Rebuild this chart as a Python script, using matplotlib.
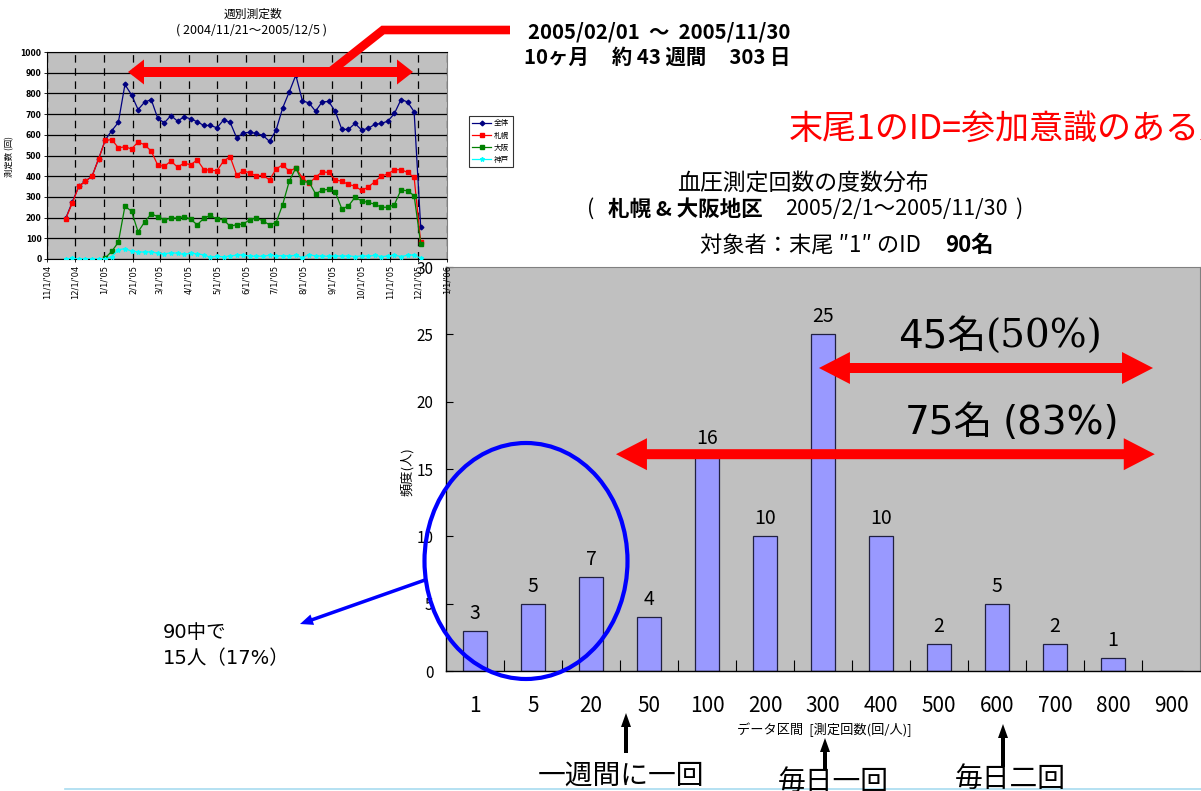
import numpy as np
import pandas as pd
import matplotlib
matplotlib.use("Agg")
import matplotlib.pyplot as plt
from matplotlib.patches import Polygon, Ellipse
from matplotlib.lines import Line2D
from matplotlib.transforms import Affine2D

plt.rcParams["font.family"] = ["Noto Sans CJK JP", "DejaVu Sans"]
NARROW = ["Liberation Sans Narrow", "Noto Sans CJK JP", "DejaVu Sans"]
WIDE = ["DejaVu Sans", "Noto Sans CJK JP"]

# ---------------- weekly measurement counts ----------------
week_start = "2004-11-21"
total_counts = [197, 276, 352, 376, 400, 484, 575, 620, 660, 843,
                793, 722, 758, 770, 679, 658, 693, 666, 687, 677,
                663, 645, 645, 634, 671, 661, 585, 609, 612, 607,
                597, 568, 623, 730, 807, 888, 764, 754, 714, 759,
                761, 713, 626, 626, 655, 623, 631, 650, 655, 666,
                703, 770, 759, 711, 153]
sapporo = [195, 271, 352, 376, 400, 484, 573, 577, 537, 542,
           532, 565, 552, 521, 453, 448, 473, 444, 463, 455,
           479, 432, 429, 426, 473, 494, 406, 426, 416, 400,
           405, 382, 435, 455, 424, 440, 392, 365, 395, 421,
           418, 382, 376, 360, 352, 331, 347, 373, 400, 411,
           431, 432, 418, 394, 81]
osaka = [np.nan] * 6 + [5, 37, 81, 255,
         231, 131, 179, 218, 205, 189, 198, 198, 205, 192,
         165, 197, 211, 192, 190, 158, 166, 169, 190, 198,
         184, 165, 176, 263, 376, 440, 371, 373, 315, 332,
         337, 324, 242, 256, 298, 281, 273, 265, 250, 250,
         263, 334, 329, 306, 73]
kobe = [0, 3, 0, 0, 0, 0, 0, 12, 45, 50,
        38, 35, 33, 35, 27, 25, 30, 28, 22, 28,
        25, 20, 8, 13, 10, 15, 18, 20, 13, 14,
        13, 18, 15, 16, 15, 17, 7, 20, 15, 14,
        13, 15, 14, 15, 12, 15, 14, 17, 12, 14,
        18, 12, 18, 20, 3]
series_labels = ["全体", "札幌", "大阪", "神戸"]
series_colors = ["#000080", "#FF0000", "#008000", "#00FFFF"]
series_markers = ["D", "s", "s", "*"]

# ---------------- frequency distribution ----------------
bins = ["1", "5", "20", "50", "100", "200", "300", "400", "500",
        "600", "700", "800", "900"]
freq = [3, 5, 7, 4, 16, 10, 25, 10, 2, 5, 2, 1, 0]

W, H = 1201, 791
fig = plt.figure(figsize=(W / 100, H / 100), dpi=100)
fig.patch.set_facecolor("white")
# pixel coordinates measured from the top-left corner of the figure
PX = Affine2D().scale(1 / W, -1 / H).translate(0, 1) + fig.transFigure


def box(l, t, r, b):
    return [l / W, 1 - b / H, (r - l) / W, (b - t) / H]


def ftext(x, y, s, **kw):
    kw.setdefault("va", "center")
    return fig.text(x / W, 1 - y / H, s, **kw)


def text_runs(x, y, runs, align="left", **common):
    """Place differently styled pieces of text one after another on a line."""
    r = fig.canvas.get_renderer()
    placed = []
    for s, kw, gap in runs:
        opts = dict(common)
        opts.update(kw)
        t = fig.text(0, 1 - y / H, s, va="center", ha="left", **opts)
        placed.append((t, t.get_window_extent(r).width, gap))
    total = sum(w + g for _, w, g in placed)
    cx = x - total / 2 if align == "center" else x
    for t, w, g in placed:
        t.set_x(cx / W)
        cx += w + g


def arrow(x0, y0, x1, y1, shaft, head_w, head_l, both=False, color="red", z=6):
    p0, p1 = np.array([x0, y0], float), np.array([x1, y1], float)
    u = (p1 - p0) / np.hypot(*(p1 - p0))
    n = np.array([-u[1], u[0]])
    b1 = p1 - u * head_l
    if both:
        b0 = p0 + u * head_l
        pts = [p0, b0 + n * head_w / 2, b0 + n * shaft / 2]
    else:
        pts = [p0 + n * shaft / 2]
    pts += [b1 + n * shaft / 2, b1 + n * head_w / 2, p1,
            b1 - n * head_w / 2, b1 - n * shaft / 2]
    if both:
        pts += [b0 - n * shaft / 2, b0 - n * head_w / 2]
    else:
        pts += [p0 - n * shaft / 2]
    fig.patches.append(Polygon(np.array(pts), closed=True, transform=PX,
                               facecolor=color, edgecolor="none", zorder=z))


def data_px(ax, x, y):
    dx, dy = ax.transData.transform((x, y))
    return dx, H - dy


# ================= frequency histogram =================
ax = fig.add_axes(box(446, 267, 1200, 671))
ax.set_facecolor("#C0C0C0")
xpos = np.arange(len(bins))
ax.bar(xpos, freq, width=0.42, color="#9999FF", edgecolor="#202040",
       linewidth=0.9, zorder=2)
ax.set_xlim(-0.5, len(bins) - 0.5)
ax.set_ylim(0, 30)
ax.set_yticks(range(0, 31, 5))
ax.set_xticks(xpos)
ax.set_xticklabels(bins)
ax.set_xticks(np.arange(0.5, len(bins) - 0.5, 1), minor=True)
ax.tick_params(axis="x", which="major", length=0, pad=17)
ax.tick_params(axis="x", which="minor", direction="in", length=8, width=0.8)
ax.tick_params(axis="y", direction="in", length=5, width=0.8, pad=9)
for lab in ax.get_xticklabels():
    lab.set_family(NARROW)
    lab.set_fontsize(15)
for lab in ax.get_yticklabels():
    lab.set_family(NARROW)
    lab.set_fontsize(11)
for side in ("left", "bottom"):
    ax.spines[side].set_color("black")
    ax.spines[side].set_linewidth(1.0)
for side in ("top", "right"):
    ax.spines[side].set_color("#808080")
    ax.spines[side].set_linewidth(0.8)
for i, v in enumerate(freq):
    if v > 0:
        ax.annotate(str(v), (i, v), xytext=(0, 5), textcoords="offset points",
                    ha="center", va="bottom", fontsize=14, family=NARROW,
                    zorder=3)

ftext(407, 472, "頻度(人)", rotation=90, ha="center", fontsize=9.5)
ftext(824, 730, "データ区間  [測定回数(回/人)]", ha="center", fontsize=9.5)

# titles
ftext(803, 183, "血圧測定回数の度数分布", ha="center", fontsize=16.5)
text_runs(805, 209, [("(", {}, 14),
                     ("札幌 & 大阪地区", {"fontweight": "bold"}, 22),
                     ("2005/2/1～2005/11/30", {}, 8),
                     (")", {}, 0)], align="center", fontsize=15.5)
text_runs(700, 245, [("対象者：末尾 ″1″ のID", {}, 24),
                     ("90名", {"fontweight": "bold"}, 0)], fontsize=16)

# share of participants
total_people = sum(freq)
upper_from_300 = sum(freq[6:])
upper_from_50 = sum(freq[3:])
lower = sum(freq[:3])

x0, y0 = data_px(ax, 5.93, 22.5)
x1, _ = data_px(ax, 11.69, 22.5)
arrow(x0, y0, x1, y0, 10, 32, 31, both=True)
x0, y1 = data_px(ax, 2.43, 16.1)
x1, _ = data_px(ax, 11.72, 16.1)
arrow(x0, y1, x1, y1, 10, 32, 31, both=True)

text_runs(898, 337, [(f"{upper_from_300}名", {"family": WIDE}, 0),
                     (f"({round(100 * upper_from_300 / total_people)}%)",
                      {"family": ["DejaVu Serif"]}, 0)], fontsize=28)
text_runs(905, 423, [(f"{upper_from_50}名", {}, 9),
                     (f"({round(100 * upper_from_50 / total_people)}%)", {}, 0)],
          fontsize=28, family=WIDE)

# low-frequency group
fig.patches.append(Ellipse((526, 561), 203, 236, transform=PX, fill=False,
                           edgecolor="#0000FF", linewidth=3.0, zorder=7))
arrow(425, 580, 300, 624, 3.5, 11, 13, color="#0000FF", z=7)
ftext(163, 633, f"{total_people}中で", ha="left", fontsize=14, family=WIDE)
ftext(163, 659, f"{lower}人（{round(100 * lower / total_people)}%）",
      ha="left", fontsize=14, family=WIDE)

# frequency landmarks
arrow(626, 753, 626, 713, 4, 10, 14, color="black")
arrow(825, 770, 825, 738, 4, 10, 14, color="black")
arrow(1003, 767, 1003, 724, 4, 10, 14, color="black")
fig.lines.append(Line2D([65, 1201], [789, 789], transform=PX,
                        color="#A8DCF0", linewidth=1.2, zorder=1))
ftext(621, 776, "一週間に一回", ha="center", fontsize=20)
ftext(833, 782, "毎日一回", ha="center", fontsize=20)
ftext(1010, 779, "毎日二回", ha="center", fontsize=20)

# ================= weekly counts chart =================
ax2 = fig.add_axes(box(47, 52, 447, 259))
ax2.set_facecolor("#C0C0C0")
dates = pd.date_range(week_start, periods=len(total_counts), freq="7D")
handles = []
for vals, lab, col, mk in zip([total_counts, sapporo, osaka, kobe],
                              series_labels, series_colors, series_markers):
    h, = ax2.plot(dates, vals, color=col, marker=mk,
                  markersize=3.2 if mk == "*" else 2.4,
                  linewidth=0.9, label=lab, zorder=3)
    handles.append(h)
month_ticks = pd.date_range("2004-11-01", "2006-01-01", freq="MS")
ax2.set_xlim(month_ticks[0], month_ticks[-1])
ax2.set_ylim(0, 1000)
ax2.set_yticks(range(0, 1001, 100))
ax2.set_xticks(month_ticks)
ax2.set_xticklabels([f"{d.month}/{d.day}/'{d.strftime('%y')}" for d in month_ticks],
                    rotation=90, fontsize=6, family="DejaVu Sans")
for lab in ax2.get_yticklabels():
    lab.set_fontsize(5.5)
    lab.set_fontweight("bold")
    lab.set_family("DejaVu Sans")
ax2.tick_params(length=2, width=0.6, pad=2)
ax2.set_axisbelow(True)
ax2.grid(axis="y", color="black", linewidth=0.9)
ax2.grid(axis="x", color="black", linewidth=0.9, linestyle=(0, (6, 4.5)))
for side in ("left", "bottom", "top"):
    ax2.spines[side].set_color("black")
    ax2.spines[side].set_linewidth(0.8)
ax2.spines["right"].set_color("#808080")

ftext(253, 14, "週別測定数", ha="center", fontsize=8.5)
ftext(252, 30, "( 2004/11/21～2005/12/5 )", ha="center", fontsize=9)
ftext(10, 157, "測定数 (回)", rotation=90, ha="center", fontsize=6)

leg = fig.legend(handles, series_labels, loc="upper left",
                 bbox_to_anchor=(469 / W, 1 - 116 / H), fontsize=5.5,
                 frameon=True, fancybox=False, edgecolor="black",
                 borderpad=0.45, labelspacing=0.55, handlelength=2.4,
                 handletextpad=0.4, borderaxespad=0)
leg.get_frame().set_linewidth(0.8)

# analysis period
fig.lines.append(Line2D([330, 383, 510], [72, 30, 30], transform=PX,
                        color="red", linewidth=6.2, solid_joinstyle="miter",
                        solid_capstyle="butt", zorder=6))
arrow(128, 72, 413, 72, 10, 25, 16, both=True)
ftext(528, 32, "2005/02/01  ～  2005/11/30", ha="left", fontsize=14.7,
      fontweight="bold")
ftext(524, 57, "10ヶ月     約 43 週間     303 日", ha="left", fontsize=14.7,
      fontweight="bold")
ftext(789, 130, "末尾1のID=参加意識のある人", ha="left", fontsize=24.5,
      color="red")

fig.savefig("out.png", dpi=100)
